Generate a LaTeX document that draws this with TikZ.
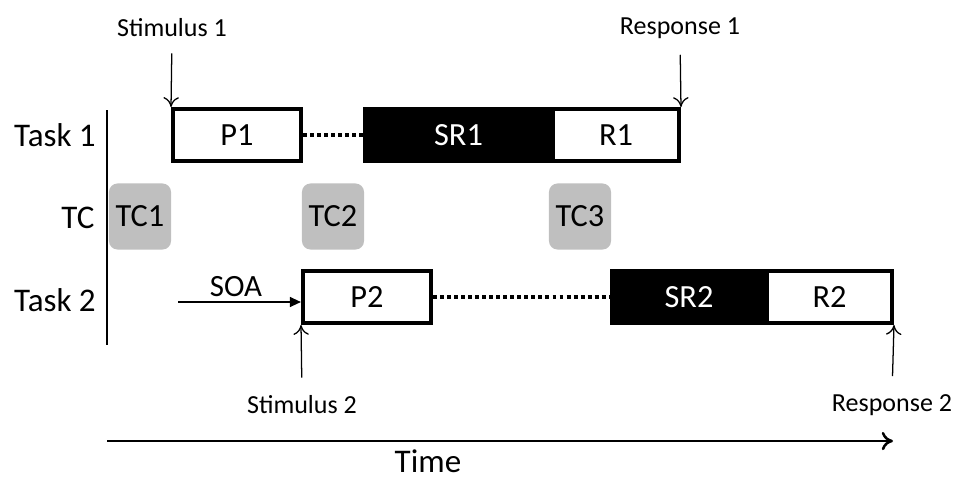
\documentclass[tikz,border=0pt]{standalone}
\usepackage{fontspec}
\setmainfont{Carlito}
\usetikzlibrary{arrows.meta}

\begin{document}
\begin{tikzpicture}
  [x=0.025cm,y=-0.025cm,every node/.style={inner sep=0pt},
   stage/.style={draw,line width=2.8pt,minimum height=1.3cm,fill=white,font=\fontsize{23}{27}\selectfont},
   dark/.style={stage,fill=black,text=white},
   tcbox/.style={fill=black!25,rounded corners=6pt,minimum width=1.55cm,minimum height=1.65cm,font=\fontsize{23}{27}\selectfont},
   event/.style={font=\fontsize{18.5}{22}\selectfont},
   rowname/.style={font=\fontsize{23.5}{28}\selectfont},
   gap/.style={line width=2.8pt,dash pattern=on 2.8pt off 2.2pt},
   mark line/.style={line width=0.9pt,arrows={-{To[length=7pt,width=11pt]}}}]
  \useasboundingbox (0,0) rectangle (960,482);

  % rows
  \node[rowname] (task1) at (55,135) {Task 1};
  \node[rowname] (tc) at (78,218) {TC};
  \node[rowname] (task2) at (55,300) {Task 2};
  \coordinate (vtop) at (107,110);
  \coordinate (vbot) at (107,345);
  \draw[line width=1.8pt] (vtop) -- (vbot);

  % task 1
  \node[stage,minimum width=3.2cm] (p1) at (237,135) {P1};
  \node[dark,minimum width=4.675cm] (sr1) at (458.5,135) {SR1};
  \node[stage,minimum width=3.15cm] (r1) at (616,135) {R1};
  \draw[gap] (p1.east) -- (sr1.west);

  % task coordination
  \node[tcbox] (tc1) at (140,216.5) {TC1};
  \node[tcbox] (tc2) at (333,216.5) {TC2};
  \node[tcbox] (tc3) at (580,216.5) {TC3};

  % task 2
  \node[stage,minimum width=3.2cm] (p2) at (367,297) {P2};
  \node[dark,minimum width=3.85cm] (sr2) at (689,297) {SR2};
  \node[stage,minimum width=3.125cm] (r2) at (829.5,297) {R2};
  \draw[gap] (p2.east) -- (sr2.west);
  \coordinate (soa) at (178,302);
  \node[event,font=\fontsize{22}{26}\selectfont] (soalabel) at (236,287) {SOA};
  \draw[line width=1.5pt,arrows={-{Triangle[length=8pt,width=7pt]}}] (soa) -- (soa -| p2.west);

  % stimuli and responses
  \node[event] (stim1) at (172,28) {Stimulus 1};
  \node[event] (resp1) at (680,28) {Response 1};
  \node[event] (stim2) at (302,405) {Stimulus 2};
  \node[event] (resp2) at (892,405) {Response 2};
  \draw[mark line,shorten <=0.4cm] (stim1.south) -- (p1.north west);
  \draw[mark line,shorten <=0.4cm] (resp1.south) -- (r1.north east);
  \draw[mark line,shorten <=0.45cm] (stim2.north) -- (p2.south west);
  \draw[mark line,shorten <=0.45cm] (resp2.north) -- (r2.south east);

  % time axis
  \coordinate (t0) at (107,441);
  \coordinate (t1) at (893,441);
  \draw[line width=1.8pt,arrows={-{To[length=8pt,width=13pt]}}] (t0) -- (t1);
  \node[rowname] (time) at (428,461) {Time};
\end{tikzpicture}
\end{document}
